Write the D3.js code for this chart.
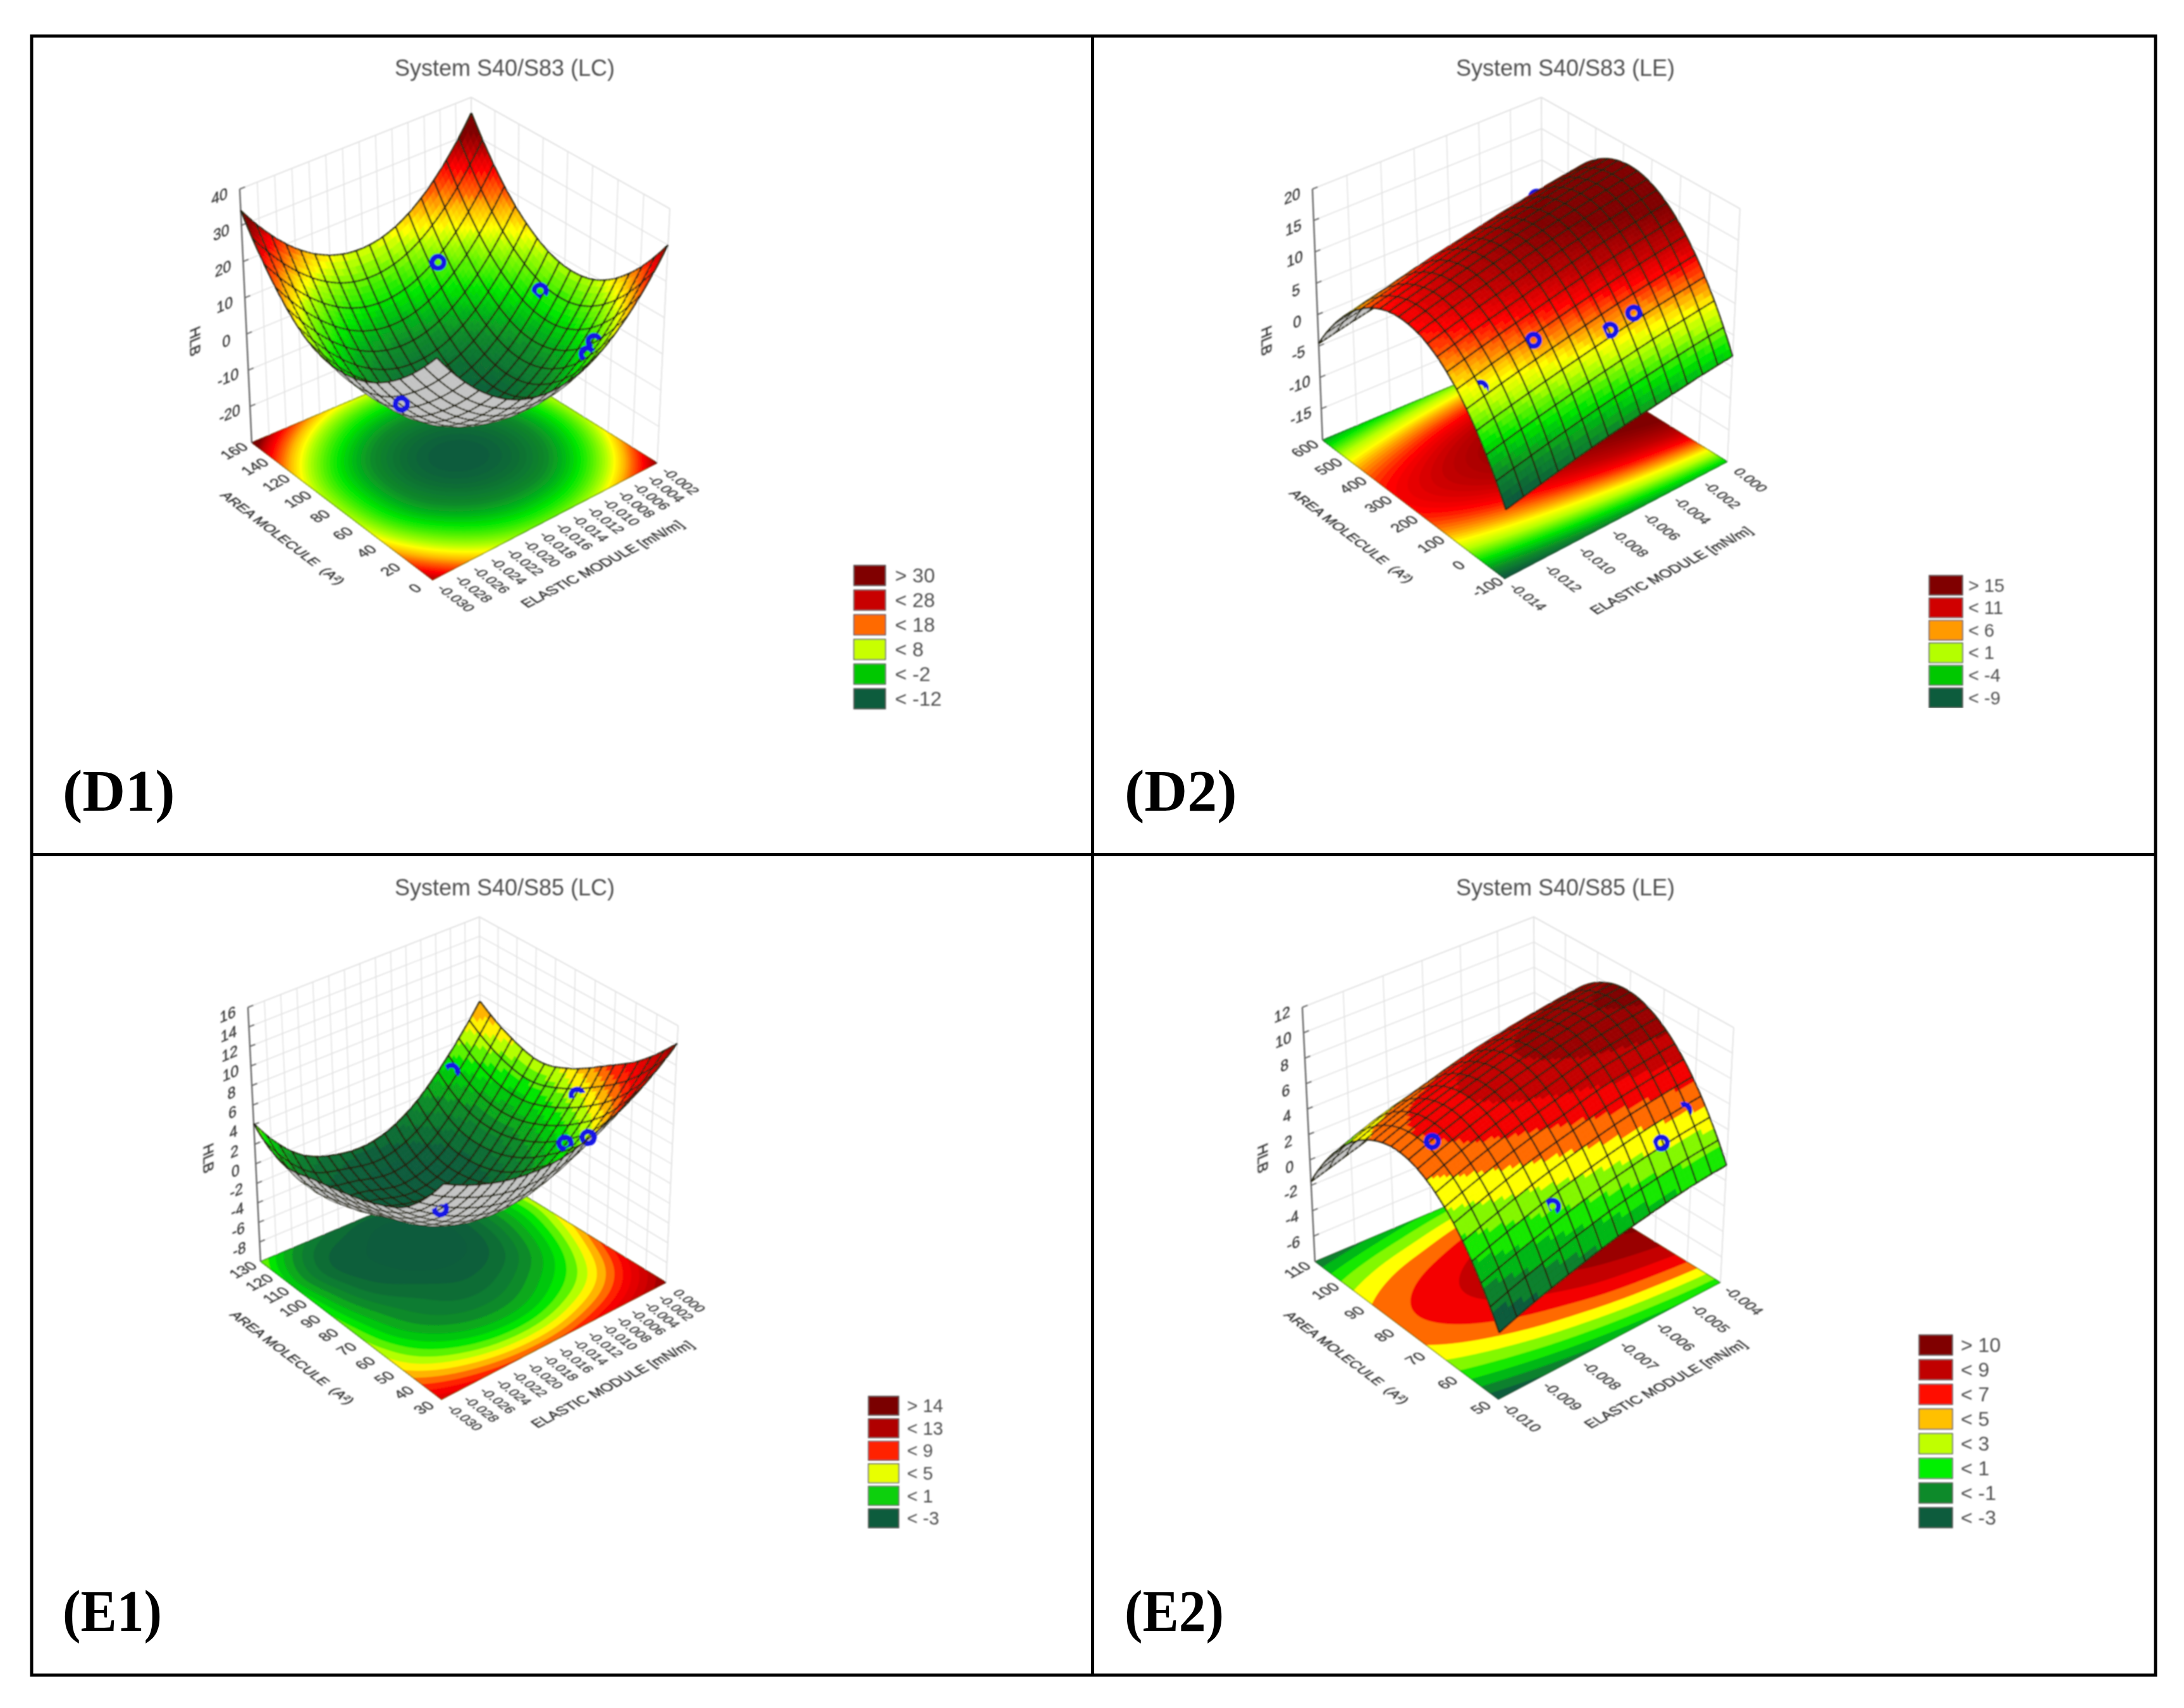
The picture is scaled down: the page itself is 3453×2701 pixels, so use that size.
<!DOCTYPE html>
<html>
<head>
<meta charset="utf-8">
<title>HLB surfaces</title>
<script src="https://cdn.jsdelivr.net/npm/d3@7"></script>
<style>
body { margin: 0; background: #fff; }
svg { display: block; }
text { font-family: "Liberation Sans", Arial, sans-serif; }
</style>
</head>
<body>
<div id="content"></div>
<script>
// ---- values ----
// hlb grids: rows go from low to high area, columns from low to high elastic module
const elasticTicksD1 = [-0.030,-0.028,-0.026,-0.024,-0.022,-0.020,-0.018,-0.016,-0.014,-0.012,-0.010,-0.008,-0.006,-0.004,-0.002];
const areaTicksD1 = [0,20,40,60,80,100,120,140,160];
const hlbTicksD1 = [-20,-10,0,10,20,30,40];
const hlbRangeD1 = [-30,40];
const hlbD1 = [
  [28.4,15.0,7.1,4.7,7.6,16.1,30.0],
  [17.0,3.8,-4.4,-7.4,-5.4,2.8,17.0],
  [10.0,-3.9,-12.0,-14.8,-12.6,-4.5,9.5],
  [7.7,-5.9,-14.4,-17.0,-14.2,-6.0,8.0],
  [10.4,-3.0,-10.9,-13.3,-10.3,-1.9,12.0],
  [19.5,6.2,-1.8,-4.2,-1.2,7.2,21.1],
  [34.1,20.7,12.8,10.4,13.3,21.8,35.7]
];
const pointsD1 = [[-0.0103,134,6.3],[-0.0041,87,1.8],[-0.0071,24,3.5],[-0.0083,22,1.7],[-0.0297,29,9.3]];
const legendLabelsD1 = ['> 30','< 28','< 18','< 8','< -2','< -12'];
const legendColorsD1 = ['#800000','#c80000','#ff6a00','#c8ff00','#00c800','#0e5c3c'];

const elasticTicksD2 = [-0.014,-0.012,-0.010,-0.008,-0.006,-0.004,-0.002,0];
const areaTicksD2 = [-100,0,100,200,300,400,500,600];
const hlbTicksD2 = [-15,-10,-5,0,5,10,15,20];
const hlbRangeD2 = [-20,20];
const hlbD2 = [
  [-9.6,-8.2,-6.9,-5.8,-4.9,-4.0,-3.3],
  [-0.1,1.5,2.9,4.2,5.4,6.4,7.3],
  [5.9,7.6,9.1,10.6,11.9,13.0,14.0],
  [8.4,10.2,11.8,13.3,14.6,15.8,16.9],
  [7.5,9.2,10.9,12.3,13.6,14.8,15.9],
  [3.2,4.8,6.4,7.7,9.0,10.1,11.0],
  [-4.6,-3.1,-1.8,-0.5,0.5,1.5,2.3]
];
const pointsD2 = [[-0.0100,48,6.8],[-0.0061,4,5.0],[-0.0048,-5,6.4],[-0.0130,53,2.9],[-0.0014,539,6.9]];
const legendLabelsD2 = ['> 15','< 11','< 6','< 1','< -4','< -9'];
const legendColorsD2 = ['#800000','#d00000','#ff9a00','#b4ff00','#00c800','#0e5c3c'];

const elasticTicksE1 = [-0.030,-0.028,-0.026,-0.024,-0.022,-0.020,-0.018,-0.016,-0.014,-0.012,-0.010,-0.008,-0.006,-0.004,-0.002,0];
const areaTicksE1 = [30,40,50,60,70,80,90,100,110,120,130];
const hlbTicksE1 = [-8,-6,-4,-2,0,2,4,6,8,10,12,14,16];
const hlbRangeE1 = [-10,16];
const hlbE1 = [
  [10.9,9.0,8.0,8.0,9.2,11.2,14.2],
  [6.5,3.8,2.2,2.1,3.6,6.2,10.5],
  [4.5,0.7,-1.2,-1.4,0.2,3.1,8.0],
  [3.4,-0.8,-2.6,-3.4,-2.4,1.1,5.8],
  [2.6,-2.2,-4.0,-4.8,-3.6,0.1,4.6],
  [2.0,-2.8,-4.0,-4.8,-3.4,0.5,5.4],
  [4.1,-0.6,-2.4,-2.6,-0.9,2.6,7.3]
];
const pointsE1 = [[-0.0051,126,2.0],[-0.0021,70,4.9],[-0.0073,57,3.3],[-0.0118,30,8.8],[-0.0276,41,6.1]];
const legendLabelsE1 = ['> 14','< 13','< 9','< 5','< 1','< -3'];
const legendColorsE1 = ['#7a0000','#b00000','#ff2000','#e8ff00','#08d010','#0e5c3c'];

const elasticTicksE2 = [-0.010,-0.009,-0.008,-0.007,-0.006,-0.005,-0.004];
const areaTicksE2 = [50,60,70,80,90,100,110];
const hlbTicksE2 = [-6,-4,-2,0,2,4,6,8,10,12];
const hlbRangeE2 = [-8,12];
const hlbE2 = [
  [-3.0,-1.9,-1.0,-0.2,0.4,0.9,1.2],
  [1.6,2.7,3.7,4.5,5.2,5.7,6.1],
  [4.4,5.6,6.6,7.4,8.2,8.7,9.1],
  [5.5,6.7,7.7,8.6,9.3,9.9,10.3],
  [4.8,6.0,7.0,7.9,8.6,9.2,9.6],
  [2.4,3.6,4.5,5.4,6.1,6.6,7.0],
  [-1.7,-0.7,0.3,1.1,1.7,2.2,2.5]
];
const pointsE2 = [[-0.0096,75,6.6],[-0.0055,54,4.3],[-0.0045,58,4.9],[-0.0081,57,2.5]];
const legendLabelsE2 = ['> 10','< 9','< 7','< 5','< 3','< 1','< -1','< -3'];
const legendColorsE2 = ['#800000','#c00000','#ff1000','#ffc000','#c0ff00','#00f000','#0a8a2a','#0e5c3c'];

// colour ramp shared by the four plots, the value of each stop differs per plot
const palette = ['#0e5c3c','#0a8a2a','#00e600','#b4ff00','#ffff00','#ffb400','#ff6a00','#ff0000','#c00000','#800000'];

const panels = [
  { title: 'System S40/S83 (LC)', tag: '(D1)', tagX: 99, tagY: 1282, titleX: 798, titleY: 120,
    elasticTicks: elasticTicksD1, areaTicks: areaTicksD1, hlbTicks: hlbTicksD1, hlbRange: hlbRangeD1, hlb: hlbD1, points: pointsD1,
    legendLabels: legendLabelsD1, legendColors: legendColorsD1,
    stops: [-17,-9,-1,8,11,15,18,23,27,30], bandStart: -30, bandStep: 1,
    meshU: 17, meshV: 17, sub: 4,
    floor: [[684,917],[1039,732],[749,551],[398,700]], top: [[692,496],[1059,330],[745,154],[379,299]],
    hlbLabel: [308,540], areaLabel: [447,851], elasticLabel: [952,892], tickFont: 22,
    legend: { x: 1350, y: 894, w: 50, h: 32, pitch: 39, labelX: 1415, font: 32 } },
  { title: 'System S40/S83 (LE)', tag: '(D2)', tagX: 1778, tagY: 1282, titleX: 2475, titleY: 120,
    elasticTicks: elasticTicksD2, areaTicks: areaTicksD2, hlbTicks: hlbTicksD2, hlbRange: hlbRangeD2, hlb: hlbD2, points: pointsD2,
    legendLabels: legendLabelsD2, legendColors: legendColorsD2,
    stops: [-9,-6,-2.5,1,3,4.5,6,8,10.5,14], bandStart: -20, bandStep: 0.5,
    meshU: 14, meshV: 20, sub: 4,
    floor: [[2379,915],[2731,730],[2440,550],[2091,696]], top: [[2386,496],[2751,330],[2437,154],[2075,299]],
    hlbLabel: [2002,539], areaLabel: [2137,848], elasticLabel: [2642,902], tickFont: 22,
    legend: { x: 3050, y: 910, w: 53, h: 31, pitch: 35.6, labelX: 3112, font: 29 } },
  { title: 'System S40/S85 (LC)', tag: '(E1)', tagX: 99, tagY: 2579, titleX: 798, titleY: 1416, tagLen: 157,
    elasticTicks: elasticTicksE1, areaTicks: areaTicksE1, hlbTicks: hlbTicksE1, hlbRange: hlbRangeE1, hlb: hlbE1, points: pointsE1,
    legendLabels: legendLabelsE1, legendColors: legendColorsE1,
    stops: [-4.2,-1,2,4,4.8,6,7,8.5,12,14], bandStart: -10, bandStep: 1,
    meshU: 20, meshV: 17, sub: 4,
    floor: [[698,2213],[1053,2028],[760,1848],[412,1995]], top: [[702,1789],[1072,1622],[758,1450],[392,1593]],
    hlbLabel: [329,1832], areaLabel: [462,2147], elasticLabel: [968,2189], tickFont: 21,
    legend: { x: 1373, y: 2208, w: 48, h: 30, pitch: 35.6, labelX: 1434, font: 29 } },
  { title: 'System S40/S85 (LE)', tag: '(E2)', tagX: 1778, tagY: 2579, titleX: 2475, titleY: 1416, tagLen: 157,
    elasticTicks: elasticTicksE2, areaTicks: areaTicksE2, hlbTicks: hlbTicksE2, hlbRange: hlbRangeE2, hlb: hlbE2, points: pointsE2,
    legendLabels: legendLabelsE2, legendColors: legendColorsE2,
    stops: [-3,-1.4,0.6,2.8,3.5,4.2,4.8,5.8,7.5,9.5], bandStart: -3, bandStep: 1.3,
    meshU: 14, meshV: 22, sub: 4,
    floor: [[2369,2213],[2720,2028],[2428,1848],[2079,1995]], top: [[2374,1791],[2741,1625],[2425,1450],[2059,1593]],
    hlbLabel: [1996,1832], areaLabel: [2129,2147], elasticLabel: [2633,2189], tickFont: 23,
    legend: { x: 3034, y: 2111, w: 53, h: 32, pitch: 39, labelX: 3100, font: 32 } }
];

// ---- helpers ----
// maps the unit square on a 4 corner quad [front, right, back, left]
const quadMap = ([p0, p1, p2, p3]) => {
  const dx1 = p1[0]-p2[0], dx2 = p3[0]-p2[0], sx = p0[0]-p1[0]+p2[0]-p3[0];
  const dy1 = p1[1]-p2[1], dy2 = p3[1]-p2[1], sy = p0[1]-p1[1]+p2[1]-p3[1];
  const den = dx1*dy2 - dx2*dy1;
  const g = (sx*dy2 - dx2*sy)/den, h = (dx1*sy - sx*dy1)/den;
  const a = p1[0]-p0[0]+g*p1[0], b = p3[0]-p0[0]+h*p3[0];
  const d = p1[1]-p0[1]+g*p1[1], e = p3[1]-p0[1]+h*p3[1];
  return (u, v) => {
    const q = g*u + h*v + 1;
    return [(a*u + b*v + p0[0])/q, (d*u + e*v + p0[1])/q];
  };
};

// same smoothing as a catmull-rom line, here along both directions of the grid
const catmull = (a, b, c, d, t) => 0.5*(2*b + (c-a)*t + (2*a-5*b+4*c-d)*t*t + (3*b-a-3*c+d)*t*t*t);
const curve = (arr, t) => {
  const n = arr.length;
  const e = [3*arr[0]-3*arr[1]+arr[2], ...arr, 3*arr[n-1]-3*arr[n-2]+arr[n-3]];
  const s = t*(n-1), k = Math.min(Math.floor(s), n-2);
  return catmull(e[k], e[k+1], e[k+2], e[k+3], s-k);
};
const surfaceAt = (grid, u, v) => curve(grid.map(row => curve(row, u)), v);

const unit = (p, q) => {
  const dx = q[0]-p[0], dy = q[1]-p[1], l = Math.hypot(dx, dy);
  return [dx/l, dy/l];
};
const polyPath = pts => 'M' + pts.map(p => p[0].toFixed(1) + ',' + p[1].toFixed(1)).join('L') + 'Z';
const linePath = pts => 'M' + pts.map(p => p[0].toFixed(1) + ',' + p[1].toFixed(1)).join('L');

const svg = d3.select('#content').append('svg').attr('width', 3453).attr('height', 2701);
svg.append('rect').attr('width', 3453).attr('height', 2701).attr('fill', '#fff');
svg.append('defs').append('filter').attr('id', 'soft')
  .attr('x', 0).attr('y', 0).attr('width', 1).attr('height', 1)
  .append('feGaussianBlur').attr('stdDeviation', 1.1);

// ---- one plot ----
const drawPanel = p => {
  const g = svg.append('g').attr('filter', 'url(#soft)');
  const uScale = d3.scaleLinear().domain(d3.extent(p.elasticTicks)).range([0, 1]);
  const vScale = d3.scaleLinear().domain(d3.extent(p.areaTicks)).range([0, 1]);
  const wScale = d3.scaleLinear().domain(p.hlbRange).range([0, 1]);
  const color = d3.scaleLinear().domain(p.stops).range(palette).clamp(true);
  const bandOf = z => p.bandStart + Math.floor((z - p.bandStart)/p.bandStep)*p.bandStep;
  const floorMap = quadMap(p.floor), topMap = quadMap(p.top);
  const project = (u, v, w) => {
    const a = floorMap(u, v), b = topMap(u, v);
    return [a[0] + (b[0]-a[0])*w, a[1] + (b[1]-a[1])*w];
  };

  // title
  g.append('text').attr('x', p.titleX).attr('y', p.titleY).attr('text-anchor', 'middle')
    .attr('font-size', 36).attr('fill', '#505050').text(p.title);

  // walls
  const walls = g.append('g').attr('fill', 'none').attr('stroke', '#e2e2e2').attr('stroke-width', 1.6);
  p.elasticTicks.forEach(t => {
    const u = uScale(t);
    walls.append('path').attr('d', linePath([project(u, 1, 0), project(u, 1, 1)]));
  });
  p.areaTicks.forEach(t => {
    const v = vScale(t);
    walls.append('path').attr('d', linePath([project(1, v, 0), project(1, v, 1)]));
  });
  p.hlbTicks.forEach(t => {
    const w = wScale(t);
    walls.append('path').attr('d', linePath([project(0, 1, w), project(1, 1, w), project(1, 0, w)]));
  });
  walls.append('path').attr('d', linePath([project(0, 1, 1), project(1, 1, 1), project(1, 0, 1)]));
  walls.append('path').attr('d', linePath([project(1, 0, 0), project(1, 0, 1)]));

  // floor contours
  const n = 110;
  const values = new Float64Array(n*n);
  for (let j = 0; j < n; j++) {
    for (let i = 0; i < n; i++) values[i + j*n] = surfaceAt(p.hlb, i/(n-1), j/(n-1));
  }
  const levels = d3.range(p.bandStart, d3.max(values) + p.bandStep, p.bandStep);
  const contours = d3.contours().size([n, n]).thresholds(levels)(Array.from(values));
  const clamp01 = t => Math.max(0, Math.min(1, t));
  const floorPath = d3.geoPath(d3.geoTransform({
    point(x, y) {
      const s = project(clamp01((x - 0.5)/(n - 1)), clamp01((y - 0.5)/(n - 1)), 0);
      this.stream.point(s[0], s[1]);
    }
  }));
  g.append('path').attr('d', polyPath([project(0,0,0), project(1,0,0), project(1,1,0), project(0,1,0)]))
    .attr('fill', color(levels[0]));
  g.append('g').selectAll('path').data(contours).join('path')
    .attr('d', floorPath)
    .attr('fill', d => color(d.value))
    .attr('stroke', d => color(d.value)).attr('stroke-width', 0.5);
  g.append('path').attr('d', polyPath([project(0,0,0), project(1,0,0), project(1,1,0), project(0,1,0)]))
    .attr('fill', 'none').attr('stroke', '#3a3a2a').attr('stroke-width', 1.2).attr('stroke-opacity', 0.6);

  // HLB axis
  g.append('path').attr('d', linePath([project(0,1,0), project(0,1,1)]))
    .attr('stroke', '#666').attr('stroke-width', 2.4).attr('fill', 'none');
  p.hlbTicks.forEach(t => {
    const w = wScale(t), a = project(0, 1, w), b = project(0.022, 1, w);
    g.append('path').attr('d', linePath([a, b])).attr('stroke', '#666').attr('stroke-width', 2);
  });

  // surface, far cells first so that the near ones cover them
  const nu = p.meshU*p.sub, nv = p.meshV*p.sub;
  const verts = d3.range(nv + 1).map(j => d3.range(nu + 1).map(i => {
    const u = i/nu, v = j/nv, z = surfaceAt(p.hlb, u, v);
    return { z, s: project(u, v, wScale(z)) };
  }));
  const rings = p.points.map(d => {
    const u = uScale(d[0]), v = vScale(d[1]);
    return { i: Math.min(nu-1, Math.floor(u*nu)), j: Math.min(nv-1, Math.floor(v*nv)), s: project(u, v, wScale(d[2])) };
  });
  const meshColor = '#23230f', meshWidth = 2.5;
  const items = [];
  for (let i = nu - 1; i >= 0; i--) {
    for (let j = nv - 1; j >= 0; j--) {
      const a = verts[j][i], b = verts[j][i+1], c = verts[j+1][i+1], d = verts[j+1][i];
      const area = (b.s[0]-a.s[0])*(c.s[1]-a.s[1]) - (b.s[1]-a.s[1])*(c.s[0]-a.s[0]);
      const mid = (a.z + b.z + c.z + d.z)/4;
      const fill = area > 0 ? '#c6c6c6' : color(bandOf(mid));
      items.push({ d: polyPath([a.s, b.s, c.s, d.s]), fill, stroke: fill, sw: 0.8 });
      // mesh lines go on the nearer quad of each pair
      if ((i + 1) % p.sub === 0) items.push({ d: linePath([b.s, c.s]), fill: 'none', stroke: meshColor, sw: meshWidth });
      if (i === 0) items.push({ d: linePath([a.s, d.s]), fill: 'none', stroke: meshColor, sw: meshWidth });
      if ((j + 1) % p.sub === 0) items.push({ d: linePath([d.s, c.s]), fill: 'none', stroke: meshColor, sw: meshWidth });
      if (j === 0) items.push({ d: linePath([a.s, b.s]), fill: 'none', stroke: meshColor, sw: meshWidth });
      rings.filter(r => r.i === i && r.j === j).forEach(r => {
        const ring = d3.path();
        ring.arc(r.s[0], r.s[1], 9.5, 0, 2*Math.PI);
        items.push({ d: ring.toString(), fill: 'none', stroke: '#1212e6', sw: 8 });
      });
    }
  }
  g.append('g').selectAll('path').data(items).join('path')
    .attr('d', d => d.d).attr('fill', d => d.fill).attr('stroke', d => d.stroke).attr('stroke-width', d => d.sw);

  // text lying in the floor and wall planes
  const uDir = unit(p.floor[0], p.floor[1]), vDir = unit(p.floor[0], p.floor[3]);
  const wallDir = unit(p.floor[3], p.floor[2]);
  const planeText = (x, y, base, up, squash, size, fill, label) => {
    g.append('text')
      .attr('transform', `matrix(${base[0]},${base[1]},${-up[0]*squash},${-up[1]*squash},${x},${y})`)
      .attr('text-anchor', 'middle').attr('dy', '0.35em')
      .attr('font-size', size).attr('fill', fill)
      .attr('stroke', fill).attr('stroke-width', 0.5).text(label);
  };
  const minusV = [-vDir[0], -vDir[1]];
  p.elasticTicks.forEach(t => {
    const s = project(uScale(t), 0, 0);
    planeText(s[0] + 37, s[1] + 29, minusV, uDir, 1, p.tickFont, '#3c3c3c', t.toFixed(3));
  });
  p.areaTicks.forEach(t => {
    const s = project(0, vScale(t), 0);
    planeText(s[0] - 28, s[1] + 13, uDir, vDir, 1, 24, '#3c3c3c', String(t));
  });
  p.hlbTicks.forEach(t => {
    const s = project(0, 1, wScale(t));
    planeText(s[0] - 32, s[1] + 11, wallDir, [0, -1], 1, 25, '#3c3c3c', String(t));
  });
  planeText(p.hlbLabel[0], p.hlbLabel[1], [0, 1], wallDir, 1, 23, '#303030', 'HLB');
  planeText(p.areaLabel[0], p.areaLabel[1], minusV, uDir, 1, 22, '#303030', 'AREA MOLECULE\u00a0\u00a0(A\u00b2)');
  planeText(p.elasticLabel[0], p.elasticLabel[1], uDir, vDir, 1, 23, '#303030', 'ELASTIC MODULE [mN/m]');

  // legend
  const lg = g.append('g');
  lg.selectAll('rect').data(p.legendColors).join('rect')
    .attr('x', p.legend.x).attr('y', (d, i) => p.legend.y + i*p.legend.pitch)
    .attr('width', p.legend.w).attr('height', p.legend.h)
    .attr('fill', d => d).attr('stroke', '#555').attr('stroke-width', 1.5);
  lg.selectAll('text').data(p.legendLabels).join('text')
    .attr('x', p.legend.labelX).attr('y', (d, i) => p.legend.y + i*p.legend.pitch + p.legend.h/2)
    .attr('dy', '0.35em').attr('font-size', p.legend.font).attr('fill', '#505050').text(d => d);

  // panel tag
  const tag = svg.append('text').attr('x', p.tagX).attr('y', p.tagY)
    .style('font-family', '"Liberation Serif", serif').attr('font-weight', 'bold')
    .attr('font-size', 94).attr('fill', '#000').text(p.tag);
  if (p.tagLen) tag.attr('textLength', p.tagLen).attr('lengthAdjust', 'spacingAndGlyphs');
};

panels.forEach(drawPanel);

// frame of the figure
const frame = svg.append('g').attr('stroke', '#000').attr('stroke-width', 5).attr('fill', 'none');
frame.append('rect').attr('x', 50).attr('y', 57).attr('width', 3358).attr('height', 2592);
frame.append('path').attr('d', 'M1727.5,57V2649M50,1351.5H3408');
</script>
</body>
</html>
